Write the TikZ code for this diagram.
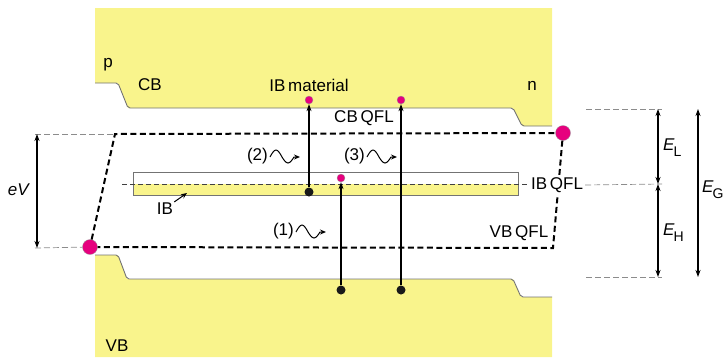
\documentclass[tikz,border=0pt]{standalone}
\usepackage{fontspec}
\setmainfont{Liberation Sans}
\usetikzlibrary{arrows.meta, positioning, calc}
\definecolor{bandyellow}{RGB}{249,244,140}
\definecolor{carrier}{RGB}{230,0,126}
\tikzstyle{band} = [fill=bandyellow]
\tikzstyle{bandedge} = [draw=black!55, line width=0.9pt, rounded corners=2pt]
\tikzstyle{qfl} = [line width=2pt, dash pattern=on 6pt off 3.5pt]
\tikzstyle{ibqfl} = [line width=1pt, black!75, dash pattern=on 5pt off 3pt]
\tikzstyle{guide} = [line width=0.7pt, black!45, dash pattern=on 6pt off 3pt]
\tikzstyle{edot} = [circle, fill=carrier, draw=black!40, line width=0.3pt, inner sep=0pt, minimum size=8pt]
\tikzstyle{bigdot} = [circle, fill=carrier, draw=black!40, line width=0.3pt, inner sep=0pt, minimum size=15pt]
\tikzstyle{hdot} = [circle, fill=black!90, inner sep=0pt, minimum size=9pt]
\tikzstyle{trans} = [line width=1.3pt, -{Stealth[length=7pt, width=5pt]}]
\tikzstyle{wave} = [line width=1pt, -{Stealth[length=6pt, width=5pt]}]
\tikzstyle{dim} = [line width=1.1pt, {Stealth[length=7pt, width=5pt]}-{Stealth[length=7pt, width=5pt]}]
\newcommand{\Esub}[1]{\textit{E}\kern-1pt\raisebox{-0.7ex}{\fontsize{14}{16}\selectfont #1}}

\begin{document}
\begin{tikzpicture}[x=1pt, y=-1pt, font=\fontsize{17}{20}\selectfont, inner sep=1pt]
        \useasboundingbox (0,0) rectangle (723,357);
        % bands
        \fill[band] (95,8) -- (552,8) -- (552,126) -- (522,126) -- (513,108) -- (128,108) -- (118,83) -- (95,83) -- cycle;
        \draw[bandedge] (95,83) -- (118,83) -- (128,108) -- (513,108) -- (522,126) -- (552,126);
        \fill[band] (95,255) -- (118,255) -- (127,279) -- (513,279) -- (521,297) -- (552,297) -- (552,357) -- (95,357) -- cycle;
        \draw[bandedge] (95,255) -- (118,255) -- (127,279) -- (513,279) -- (521,297) -- (552,297);
        % intermediate band
        \fill[band] (133,184) rectangle (518,195);
        \draw[black!55, line width=0.9pt] (133,172) rectangle (518,195);
        \draw[ibqfl] (122,184) -- (528,184);
        % quasi Fermi levels
        \node[bigdot] (fl) at (90,247) {};
        \node[bigdot] (fr) at (563,133) {};
        \coordinate (cbl) at (115,134);
        \coordinate (vbr) at (553,248);
        \draw[qfl] (fl) -- (cbl) -- (fr) -- (vbr) -- (fl);
        \node[fill=white, inner sep=2pt] (ibqfl) at (557,185) {IB\,QFL};
        % labels
        \node (p) at (108,65) {p};
        \node (cb) at (150,85) {CB};
        \node (ibm) at (309,85) {IB\,material};
        \node (n) at (532,86) {n};
        \node (cbqfl) at (364,118) {CB\,QFL};
        \node (vbqfl) at (519,233) {VB\,QFL};
        \node (vb) at (117,346) {VB};
        \node (ib) at (165,209) {IB};
        \coordinate (ibtip) at (187,193);
        \draw[line width=1pt, -{Stealth[length=6pt, width=5pt]}] (ib.north east) -- (ibtip);
        % transitions
        \node[edot] (e2) at (309,100) {};
        \node[hdot] (h2) at (309,192) {};
        \node[edot] (e1) at (341,178) {};
        \node[hdot] (h1) at (341,290) {};
        \node[edot] (e3) at (401,100) {};
        \node[hdot] (h3) at (401,290) {};
        \draw[trans] (h2) -- (e2);
        \draw[trans] (h1) -- (e1);
        \draw[trans] (h3) -- (e3);
        \node[anchor=east] (l2) at (269,156) {(2)};
        \node[anchor=east] (l3) at (366,156) {(3)};
        \node[anchor=east] (l1) at (295,231) {(1)};
        \foreach \l in {l1, l2, l3}
            \draw[wave] ($(\l.east)+(1,1)$) sin ++(6,-7) cos ++(6,7) sin ++(6,6) cos ++(6,-6) -- ++(6,0);
        % applied voltage
        \coordinate (evt) at (37,134);
        \coordinate (evb) at (37,248);
        \draw[guide] (35,134) -- (cbl);
        \draw[guide] (35,248) -- (fl);
        \draw[dim] (evt) -- (evb);
        \node (ev) at (19,190) {\textit{eV}};
        % energy gaps
        \coordinate (gc) at (658,109);
        \coordinate (gi) at (658,184);
        \coordinate (gv) at (658,277);
        \coordinate (gct) at (698,109);
        \coordinate (gvb) at (698,277);
        \draw[guide] (586,109) -- (662,109);
        \draw[guide] (ibqfl.east) -- (662,184);
        \draw[guide] (586,277) -- (662,277);
        \draw[dim] (gc) -- (gi);
        \draw[dim] (gi) -- (gv);
        \draw[dim] (gct) -- (gvb);
        \node[anchor=west] (el) at (662,148) {\Esub{L}};
        \node[anchor=west] (eh) at (662,233) {\Esub{H}};
        \node[anchor=west] (eg) at (701,190) {\Esub{G}};
\end{tikzpicture}
\end{document}
